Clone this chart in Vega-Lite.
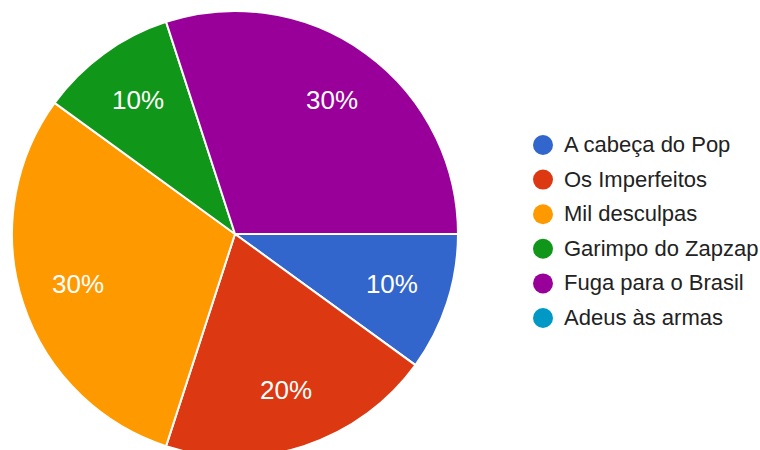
{
  "$schema": "https://vega.github.io/schema/vega-lite/v6.json",
  "autosize": "none",
  "width": 470,
  "height": 468,
  "padding": {"left": 0, "top": 0, "right": 290, "bottom": 0},
  "background": "white",
  "config": {"view": {"stroke": null}, "font": "Liberation Sans"},
  "data": {
    "values": [
      {"name": "A cabeça do Pop", "value": 1, "order": 1, "label": "10%"},
      {"name": "Os Imperfeitos", "value": 2, "order": 2, "label": "20%"},
      {"name": "Mil desculpas", "value": 3, "order": 3, "label": "30%"},
      {"name": "Garimpo do Zapzap", "value": 1, "order": 4, "label": "10%"},
      {"name": "Fuga para o Brasil", "value": 3, "order": 5, "label": "30%"},
      {"name": "Adeus às armas", "value": 0, "order": 6, "label": "0%"}
    ]
  },
  "encoding": {
    "theta": {"field": "value", "type": "quantitative", "stack": true, "scale": {"range": [1.5707963, 7.8539816]}},
    "order": {"field": "order", "type": "quantitative"}
  },
  "layer": [
    {
      "mark": {"type": "arc", "outerRadius": 223, "stroke": "white", "strokeWidth": 2},
      "encoding": {
        "color": {
          "field": "name",
          "type": "nominal",
          "scale": {
            "domain": ["A cabeça do Pop", "Os Imperfeitos", "Mil desculpas", "Garimpo do Zapzap", "Fuga para o Brasil", "Adeus às armas"],
            "range": ["#3366cc", "#dc3912", "#ff9900", "#109618", "#990099", "#0099c6"]
          },
          "legend": {
            "title": null,
            "orient": "none",
            "legendX": 532,
            "legendY": 134,
            "padding": 0,
            "symbolType": "circle",
            "symbolSize": 400,
            "symbolStrokeWidth": 0,
            "symbolOpacity": 1,
            "labelFontSize": 22,
            "labelFont": "Liberation Sans",
            "labelColor": "#222222",
            "labelOffset": 10,
            "rowPadding": 12.6,
            "labelLimit": 300
          }
        }
      }
    },
    {
      "transform": [{"filter": "datum.value > 0"}],
      "mark": {"type": "text", "radius": 165, "color": "white", "fontSize": 26, "font": "Liberation Sans", "align": "center", "baseline": "middle"},
      "encoding": {"text": {"field": "label", "type": "nominal"}}
    }
  ]
}
